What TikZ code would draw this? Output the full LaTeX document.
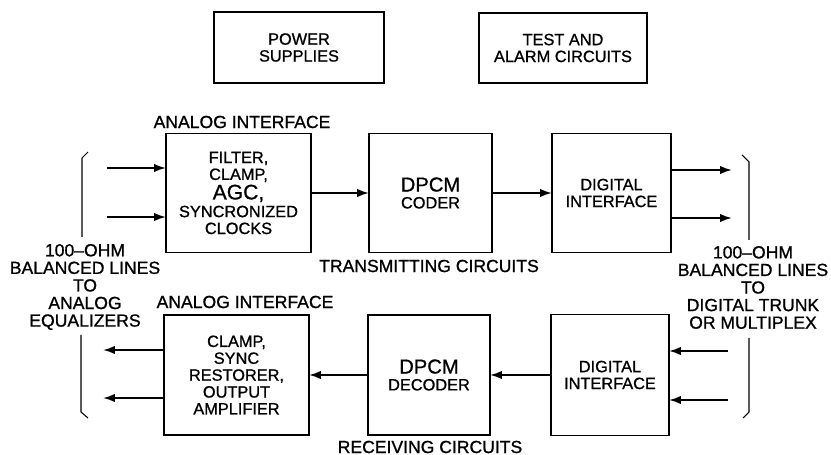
\documentclass[tikz,border=0pt]{standalone}
\usepackage{fontspec}
\setmainfont{Liberation Sans}[FakeBold=1]
\usetikzlibrary{arrows.meta,calc,positioning}
\newcommand{\bxfont}{\fontsize{9.3}{9.6}\selectfont}
\newcommand{\lbfont}{\fontsize{10}{10}\selectfont}
\newcommand{\bigfont}{\fontsize{12}{9.6}\selectfont}

\begin{document}
\begin{tikzpicture}[x=0.02cm, y=-0.02cm, >=Latex,
    box/.style={draw, line width=0.85pt, align=center, inner sep=0pt, outer sep=0pt, font=\bxfont},
    sig/.style={-{Latex[length=2.4mm, width=1.7mm]}, line width=1.1pt},
    brk/.style={line width=0.6pt},
    lbl/.style={align=center, inner sep=0pt, font=\lbfont}]
    \useasboundingbox (0,0) rectangle (831,455);
    \node[box, minimum width=3.4cm, minimum height=1.42cm] (pwr) at (299,47.5) {POWER\\SUPPLIES};
    \node[box, minimum width=3.36cm, minimum height=1.4cm] (test) at (563,48) {TEST AND\\ALARM CIRCUITS};
    \node[box, minimum width=2.9cm, minimum height=2.38cm] (ain) at (238.5,193) {FILTER,\\CLAMP,\\[1.5pt]{\bigfont AGC,}\\[0.5pt]SYNCRONIZED\\CLOCKS};
    \node[box, minimum width=2.46cm, minimum height=2.38cm] (cod) at (430.5,193) {{\fontsize{11.5}{9.6}\selectfont DPCM}\\CODER};
    \node[box, minimum width=2.38cm, minimum height=2.38cm] (dtx) at (611.5,193) {DIGITAL\\INTERFACE};
    \node[box, minimum width=2.9cm, minimum height=2.4cm] (aout) at (236.5,375) {CLAMP,\\SYNC\\RESTORER,\\OUTPUT\\AMPLIFIER};
    \node[box, minimum width=2.44cm, minimum height=2.4cm] (dec) at (429,375) {{\fontsize{11.5}{9.6}\selectfont DPCM}\\DECODER};
    \node[box, minimum width=2.36cm, minimum height=2.42cm] (drx) at (610,375) {DIGITAL\\INTERFACE};
    \node[lbl] (ainl) at (242,122) {ANALOG INTERFACE};
    \node[lbl] (aoutl) at (245,302) {ANALOG INTERFACE};
    \node[lbl] (txl) at (429,266) {TRANSMITTING CIRCUITS};
    \node[lbl] (rxl) at (430,447) {RECEIVING CIRCUITS};
    \node[lbl] (left) at (85,287) {100--OHM\\BALANCED LINES\\TO\\ANALOG\\EQUALIZERS};
    \node[lbl] (right) at (753,287.5) {100--OHM\\BALANCED LINES\\TO\\DIGITAL TRUNK\\OR MULTIPLEX};
    \coordinate (tl1) at (107,168);
    \coordinate (tl2) at (107,217);
    \coordinate (tr1) at (732,170);
    \coordinate (tr2) at (732,218);
    \coordinate (bl1) at (103,350);
    \coordinate (bl2) at (103,398);
    \coordinate (br1) at (728,351);
    \coordinate (br2) at (728,400);
    \draw[sig] (tl1) -- (tl1 -| ain.west);
    \draw[sig] (tl2) -- (tl2 -| ain.west);
    \draw[sig] (ain.east) -- (cod.west);
    \draw[sig] (cod.east) -- (dtx.west);
    \draw[sig] (tr1 -| dtx.east) -- (tr1);
    \draw[sig] (tr2 -| dtx.east) -- (tr2);
    \draw[sig] (br1) -- (br1 -| drx.east);
    \draw[sig] (br2) -- (br2 -| drx.east);
    \draw[sig] (drx.west) -- (dec.east);
    \draw[sig] (dec.west) -- (aout.east);
    \draw[sig] (bl1 -| aout.west) -- (bl1);
    \draw[sig] (bl2 -| aout.west) -- (bl2);
    \draw[brk] (88,152) -- (82,158) -- (82,237);
    \draw[brk] (81,335) -- (81,412) -- (88,418);
    \draw[brk] (742,155) -- (749,162) -- (749,240);
    \draw[brk] (749,338) -- (749,412) -- (743,418);
  \end{tikzpicture}
\end{document}
